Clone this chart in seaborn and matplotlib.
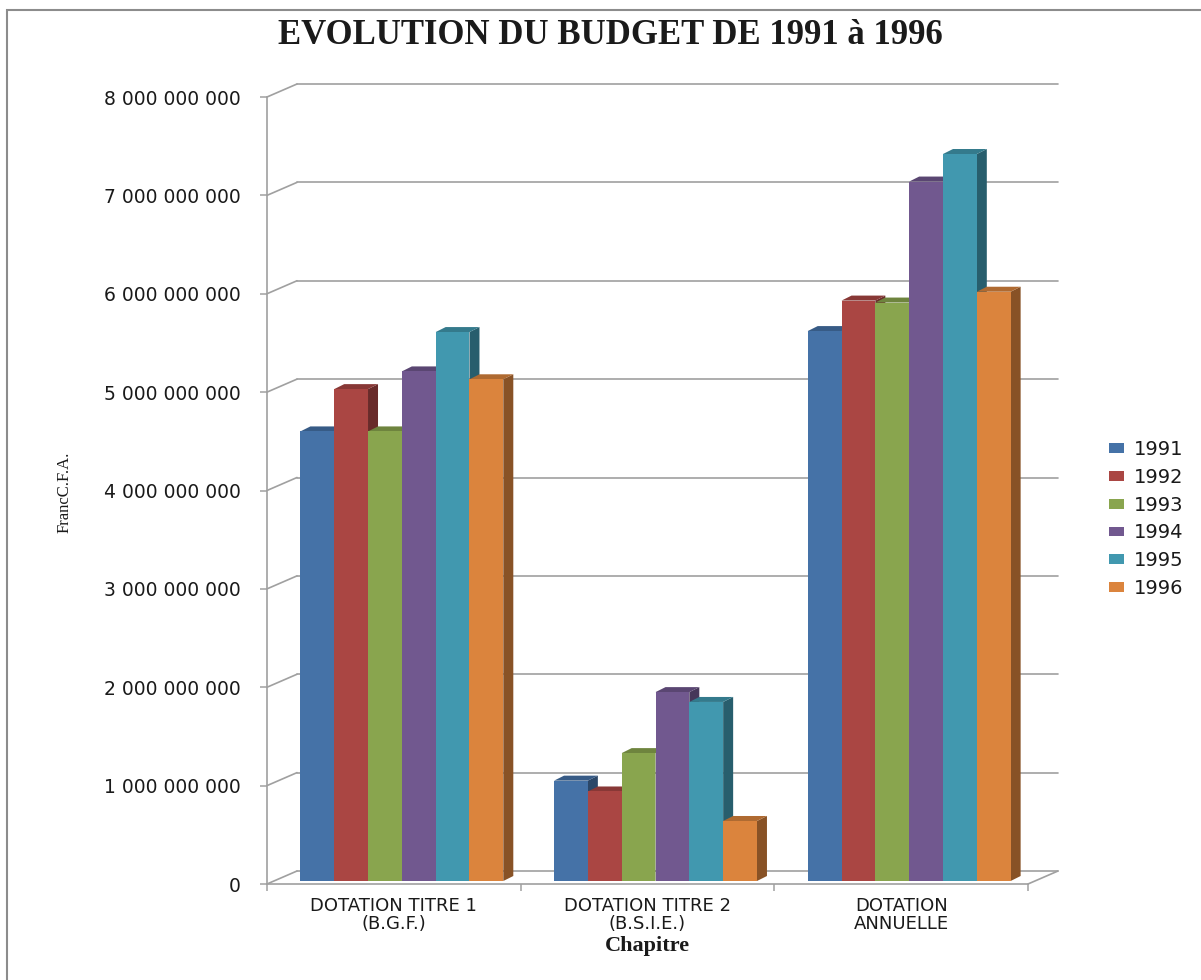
import numpy as np
import pandas as pd
import matplotlib
matplotlib.use("Agg")
import matplotlib.pyplot as plt
import seaborn as sns
from matplotlib.lines import Line2D
from matplotlib.patches import Polygon, Rectangle
from matplotlib.transforms import IdentityTransform, Affine2D
from matplotlib.colors import to_rgb
from matplotlib.ticker import FuncFormatter, FixedLocator

# ---- data ---------------------------------------------------------------
chapitres = ["DOTATION TITRE 1\n(B.G.F.)", "DOTATION TITRE 2\n(B.S.I.E.)", "DOTATION\nANNUELLE"]
annees = ["1991", "1992", "1993", "1994", "1995", "1996"]
titre1 = [4.57e9, 5.00e9, 4.57e9, 5.18e9, 5.58e9, 5.10e9]
titre2 = [1.02e9, 0.91e9, 1.30e9, 1.92e9, 1.82e9, 0.61e9]
annuelle = [5.59e9, 5.90e9, 5.88e9, 7.11e9, 7.39e9, 5.99e9]
y_ticks = [0, 1e9, 2e9, 3e9, 4e9, 5e9, 6e9, 7e9, 8e9]
couleurs = ["#4572A7", "#AA4643", "#89A54E", "#71588F", "#4198AF", "#DB843D"]

titre = "EVOLUTION DU BUDGET DE 1991 à 1996"
label_x = "Chapitre"
label_y = "FrancC.F.A."

# ---- styling ------------------------------------------------------------
sns.set_style("white")
plt.rcParams["font.family"] = ["DejaVu Sans"]
GRID = "#a0a0a0"
TXT = "#1a1a1a"

# pseudo-3D offsets in pixels
WALL_DX, WALL_DY = 30, 13     # back wall relative to front plane
BAR_DX, BAR_DY = 8, 3         # bar front faces sit slightly behind the front plane
DEP_DX, DEP_DY = 10, 5        # visible depth of each column

df = pd.DataFrame({
    "Chapitre": np.repeat(chapitres, len(annees)),
    "Année": annees * len(chapitres),
    "Montant": titre1 + titre2 + annuelle,
})

W, H = 1201, 980
fig = plt.figure(figsize=(W / 100, H / 100), dpi=100)
ax = fig.add_axes([267 / W, 1 - 884 / H, (1028 - 267) / W, (884 - 97) / H])
ax.set_facecolor("none")

sns.barplot(data=df, x="Chapitre", y="Montant", hue="Année",
            order=chapitres, hue_order=annees, palette=couleurs,
            saturation=1, width=0.8, linewidth=0, errorbar=None,
            ax=ax, legend=True)

ax.set_xlim(-0.5, 2.5)
ax.set_ylim(0, 8e9)


def disp(x, y, dx=0.0, dy=0.0):
    px, py = ax.transData.transform((x, y))
    return (px + dx, py + dy)


ident = IdentityTransform()

# back wall gridlines and left wall slants
for v in y_ticks:
    a = disp(-0.5, v, WALL_DX, WALL_DY)
    b = disp(2.5, v, WALL_DX, WALL_DY)
    ax.add_line(Line2D([a[0], b[0]], [a[1], b[1]], transform=ident,
                       color=GRID, lw=1.2, zorder=0.5, clip_on=False))
    f = disp(-0.5, v)
    ax.add_line(Line2D([f[0], a[0]], [f[1], a[1]], transform=ident,
                       color=GRID, lw=1.2, zorder=0.5, clip_on=False))
# right edge of the floor
f = disp(2.5, 0)
a = disp(2.5, 0, WALL_DX, WALL_DY)
ax.add_line(Line2D([f[0], a[0]], [f[1], a[1]], transform=ident,
                   color=GRID, lw=1.2, zorder=0.5, clip_on=False))


def shade(c, k):
    r, g, b = to_rgb(c)
    return (r * k, g * k, b * k)


# columns: front face from seaborn, plus side and top faces
shift = ax.transData + Affine2D().translate(BAR_DX, BAR_DY)
for k, cont in enumerate(ax.containers):
    for p in cont.patches:
        x0, w, h = p.get_x(), p.get_width(), p.get_height()
        col = p.get_facecolor()
        p.set_transform(shift)
        p.set_zorder(3 + k)
        p.set_clip_on(False)
        bl = disp(x0, 0, BAR_DX, BAR_DY)
        br = disp(x0 + w, 0, BAR_DX, BAR_DY)
        tl = disp(x0, h, BAR_DX, BAR_DY)
        tr = disp(x0 + w, h, BAR_DX, BAR_DY)
        side = [br, tr, (tr[0] + DEP_DX, tr[1] + DEP_DY), (br[0] + DEP_DX, br[1] + DEP_DY)]
        top = [tl, tr, (tr[0] + DEP_DX, tr[1] + DEP_DY), (tl[0] + DEP_DX, tl[1] + DEP_DY)]
        ax.add_patch(Polygon(side, closed=True, transform=ident, fc=shade(col, 0.62),
                             ec="none", zorder=3 + k - 0.2, clip_on=False))
        ax.add_patch(Polygon(top, closed=True, transform=ident, fc=shade(col, 0.8),
                             ec="none", zorder=3 + k - 0.1, clip_on=False))

ax.set_xlim(-0.5, 2.5)
ax.set_ylim(0, 8e9)

# axes and ticks
for s in ["top", "right"]:
    ax.spines[s].set_visible(False)
for s in ["left", "bottom"]:
    ax.spines[s].set_color(GRID)
    ax.spines[s].set_linewidth(1.2)
    ax.spines[s].set_zorder(0.6)

ax.yaxis.set_major_locator(FixedLocator(y_ticks))
ax.yaxis.set_major_formatter(FuncFormatter(lambda v, _: f"{int(round(v)):,}".replace(",", " ")))
ax.tick_params(axis="y", which="major", left=True, length=5, width=1.1, color=GRID,
               pad=14, labelsize=13.5, labelcolor=TXT)

ax.xaxis.set_minor_locator(FixedLocator([-0.5, 0.5, 1.5, 2.5]))
ax.tick_params(axis="x", which="minor", bottom=True, length=5, width=1.1, color=GRID)
ax.tick_params(axis="x", which="major", bottom=True, length=0, pad=9,
               labelsize=13, labelcolor=TXT)
for t in ax.get_xticklabels():
    t.set_linespacing(1.0)

ax.set_xlabel(label_x, fontsize=16, fontweight="bold", family="Liberation Serif", color=TXT)
ax.xaxis.set_label_coords(0.5, (884 - 946) / 787)
ax.xaxis.label.set_va("center")
ax.set_ylabel(label_y, fontsize=12, family="Liberation Serif", color=TXT)
ax.yaxis.set_label_coords((65 - 267) / 761, (884 - 492) / 787)
ax.yaxis.label.set_va("center")

fig.text(610 / W, 1 - 36 / H, titre, ha="center", va="center", fontsize=25,
         fontweight="bold", family="Liberation Serif", color=TXT)

sns.move_legend(ax, "center left", bbox_to_anchor=(1109 / W, 1 - 519 / H),
                bbox_transform=fig.transFigure, frameon=False, title=None,
                fontsize=14, handlelength=0.78, handleheight=0.4,
                handletextpad=0.5, labelspacing=0.45, borderpad=0, borderaxespad=0)
for t in ax.get_legend().get_texts():
    t.set_color(TXT)

# chart-area frame
fig.add_artist(Rectangle((7 / W, -0.1), 1.2, (H - 10) / H + 0.1, transform=fig.transFigure,
                         fill=False, ec="#8c8c8c", lw=1.5))

fig.savefig("out.png", dpi=100, facecolor="white")
